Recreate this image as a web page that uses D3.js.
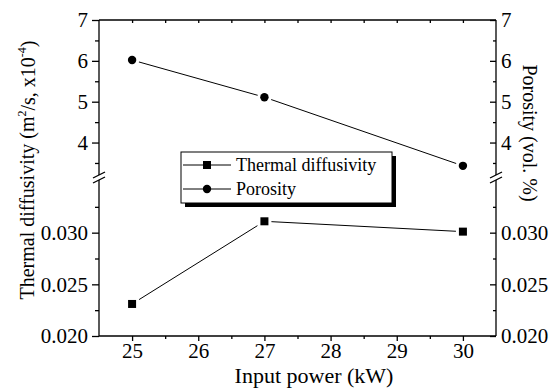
<!DOCTYPE html>
<html>
<head>
<meta charset="utf-8">
<script src="https://cdn.jsdelivr.net/npm/d3@7/dist/d3.min.js"></script>
<style>
  body { margin: 0; background: #fff; }
  .axis path, .axis line { stroke: #000; stroke-width: 1.3; }
  .axis text { fill: #000; }
</style>
</head>
<body>
<div id="chart"></div>
<script>
// dados
const power = [25, 27, 30];
const diffusivity = [0.0231, 0.0311, 0.0301];
const porosity = [6.02, 5.11, 3.43];

const xTicks = [25, 26, 27, 28, 29, 30];
const upperTicks = [4, 5, 6, 7];
const lowerTicks = [0.020, 0.025, 0.030];
const upperMinor = [3.5, 4.5, 5.5, 6.5];
const lowerMinor = [0.0225, 0.0275, 0.0325];
const xMinor = [25.5, 26.5, 27.5, 28.5, 29.5];

const width = 558, height = 388;
const m = { left: 99, right: 496, top: 20, bottom: 336 };
const breakTop = 174, breakBottom = 181;
const serif = "Liberation Serif";

const svg = d3.select("#chart").append("svg")
    .attr("width", width)
    .attr("height", height)
    .style("font-family", serif);

// escalas
const x = d3.scaleLinear().domain([24.5, 30.5]).range([m.left, m.right]);
const yUp = d3.scaleLinear().domain([3.23, 7]).range([breakTop, m.top]);
const yLow = d3.scaleLinear().domain([0.020, 0.035]).range([m.bottom, breakBottom]);

function styleAxis(g) {
    g.attr("class", "axis").attr("font-family", null).attr("font-size", null);
    g.select(".domain").remove();
    g.selectAll("text").style("font-family", serif).style("font-size", "21px");
    return g;
}

// eixo inferior
svg.append("g")
    .attr("transform", `translate(0,${m.bottom})`)
    .call(d3.axisBottom(x).tickValues(xTicks).tickSize(5).tickPadding(2).tickFormat(d3.format("d")))
    .call(styleAxis);
svg.append("g")
    .attr("transform", `translate(0,${m.bottom})`)
    .call(d3.axisBottom(x).tickValues(xMinor).tickSize(3).tickFormat(""))
    .call(styleAxis);

// eixo superior (ticks para dentro)
svg.append("g")
    .attr("transform", `translate(0,${m.top})`)
    .call(d3.axisBottom(x).tickValues(xTicks.concat(xMinor)).tickSize(3).tickFormat(""))
    .call(styleAxis);

// eixo esquerdo
svg.append("g")
    .attr("transform", `translate(${m.left},0)`)
    .call(d3.axisLeft(yUp).tickValues(upperTicks).tickSize(7).tickPadding(4).tickFormat(d3.format("d")))
    .call(styleAxis);
svg.append("g")
    .attr("transform", `translate(${m.left},0)`)
    .call(d3.axisLeft(yUp).tickValues(upperMinor).tickSize(4).tickFormat(""))
    .call(styleAxis);
svg.append("g")
    .attr("transform", `translate(${m.left},0)`)
    .call(d3.axisLeft(yLow).tickValues(lowerTicks).tickSize(7).tickPadding(4).tickFormat(d3.format(".3f")))
    .call(styleAxis);
svg.append("g")
    .attr("transform", `translate(${m.left},0)`)
    .call(d3.axisLeft(yLow).tickValues(lowerMinor).tickSize(4).tickFormat(""))
    .call(styleAxis);

// eixo direito (ticks para dentro, rótulos fora)
svg.append("g")
    .attr("transform", `translate(${m.right},0)`)
    .call(d3.axisLeft(yUp).tickValues(upperTicks).tickSize(6).tickFormat(""))
    .call(styleAxis);
svg.append("g")
    .attr("transform", `translate(${m.right},0)`)
    .call(d3.axisLeft(yUp).tickValues(upperMinor).tickSize(3).tickFormat(""))
    .call(styleAxis);
svg.append("g")
    .attr("transform", `translate(${m.right},0)`)
    .call(d3.axisLeft(yLow).tickValues(lowerTicks).tickSize(6).tickFormat(""))
    .call(styleAxis);
svg.append("g")
    .attr("transform", `translate(${m.right},0)`)
    .call(d3.axisLeft(yLow).tickValues(lowerMinor).tickSize(3).tickFormat(""))
    .call(styleAxis);
svg.append("g")
    .attr("transform", `translate(${m.right},0)`)
    .call(d3.axisRight(yUp).tickValues(upperTicks).tickSize(0).tickPadding(5).tickFormat(d3.format("d")))
    .call(styleAxis);
svg.append("g")
    .attr("transform", `translate(${m.right},0)`)
    .call(d3.axisRight(yLow).tickValues(lowerTicks).tickSize(0).tickPadding(5).tickFormat(d3.format(".3f")))
    .call(styleAxis);

// moldura
const frame = svg.append("g").attr("stroke", "#000").attr("stroke-width", 1.3);
frame.append("line").attr("x1", m.left).attr("x2", m.right).attr("y1", m.top).attr("y2", m.top);
frame.append("line").attr("x1", m.left).attr("x2", m.right).attr("y1", m.bottom).attr("y2", m.bottom);
[m.left, m.right].forEach(xx => {
    frame.append("line").attr("x1", xx).attr("x2", xx).attr("y1", m.top).attr("y2", breakTop + 1);
    frame.append("line").attr("x1", xx).attr("x2", xx).attr("y1", breakBottom - 1).attr("y2", m.bottom);
    // marcas de quebra
    [breakTop + 1, breakBottom - 1].forEach(yy => {
        frame.append("line")
            .attr("x1", xx - 6).attr("y1", yy + 3)
            .attr("x2", xx + 6).attr("y2", yy - 3);
    });
});

// linhas
const lineUp = d3.line().x((d, i) => x(power[i])).y(d => yUp(d));
const lineLow = d3.line().x((d, i) => x(power[i])).y(d => yLow(d));

svg.append("path")
    .attr("d", lineUp(porosity))
    .attr("fill", "none").attr("stroke", "#000").attr("stroke-width", 1);
svg.append("path")
    .attr("d", lineLow(diffusivity))
    .attr("fill", "none").attr("stroke", "#000").attr("stroke-width", 1);

// marcadores (contorno branco cria o espaço entre linha e marcador)
svg.selectAll(".pt-por").data(porosity).join("circle")
    .attr("cx", (d, i) => x(power[i]))
    .attr("cy", d => yUp(d))
    .attr("r", 4.2)
    .attr("fill", "#000").attr("stroke", "#fff").attr("stroke-width", 6)
    .attr("paint-order", "stroke");
svg.selectAll(".pt-dif").data(diffusivity).join("rect")
    .attr("x", (d, i) => x(power[i]) - 4)
    .attr("y", d => yLow(d) - 4)
    .attr("width", 8).attr("height", 8)
    .attr("fill", "#000").attr("stroke", "#fff").attr("stroke-width", 6)
    .attr("paint-order", "stroke");

// legenda
const lg = svg.append("g");
lg.append("rect").attr("x", 185).attr("y", 156).attr("width", 211).attr("height", 51).attr("fill", "#000");
lg.append("rect").attr("x", 181).attr("y", 152).attr("width", 211).attr("height", 51)
    .attr("fill", "#fff").attr("stroke", "#000").attr("stroke-width", 1);

const legendItems = [
    { label: "Thermal diffusivity", shape: "square", y: 165 },
    { label: "Porosity", shape: "circle", y: 189 }
];
legendItems.forEach(it => {
    lg.append("line").attr("x1", 183).attr("x2", 231).attr("y1", it.y).attr("y2", it.y)
        .attr("stroke", "#000").attr("stroke-width", 1);
    if (it.shape === "square") {
        lg.append("rect").attr("x", 203).attr("y", it.y - 4).attr("width", 8).attr("height", 8).attr("fill", "#000");
    } else {
        lg.append("circle").attr("cx", 207).attr("cy", it.y).attr("r", 4.2).attr("fill", "#000");
    }
    lg.append("text").attr("x", 236).attr("y", it.y).attr("dy", "0.35em")
        .style("font-family", serif).style("font-size", "18px").text(it.label);
});

// títulos dos eixos
svg.append("text")
    .attr("x", 314)
    .attr("y", 383)
    .attr("text-anchor", "middle")
    .style("font-family", serif).style("font-size", "22px")
    .text("Input power (kW)");

const yl = svg.append("text")
    .attr("transform", "translate(27,170) rotate(-90)")
    .attr("text-anchor", "middle")
    .attr("dy", "0.35em")
    .style("font-family", serif).style("font-size", "20px");
yl.append("tspan").text("Thermal diffusivity (m");
yl.append("tspan").style("font-size", "12px").attr("dy", "-0.7em").text("2");
yl.append("tspan").attr("dy", "0.45em").text("/s, x10");
yl.append("tspan").style("font-size", "12px").attr("dy", "-0.7em").text("-4");
yl.append("tspan").attr("dy", "0.45em").text(")");

svg.append("text")
    .attr("transform", "translate(530,133) rotate(90)")
    .attr("text-anchor", "middle")
    .attr("dy", "0.35em")
    .style("font-family", serif).style("font-size", "20px")
    .text("Porosity (vol. %)");
</script>
</body>
</html>
